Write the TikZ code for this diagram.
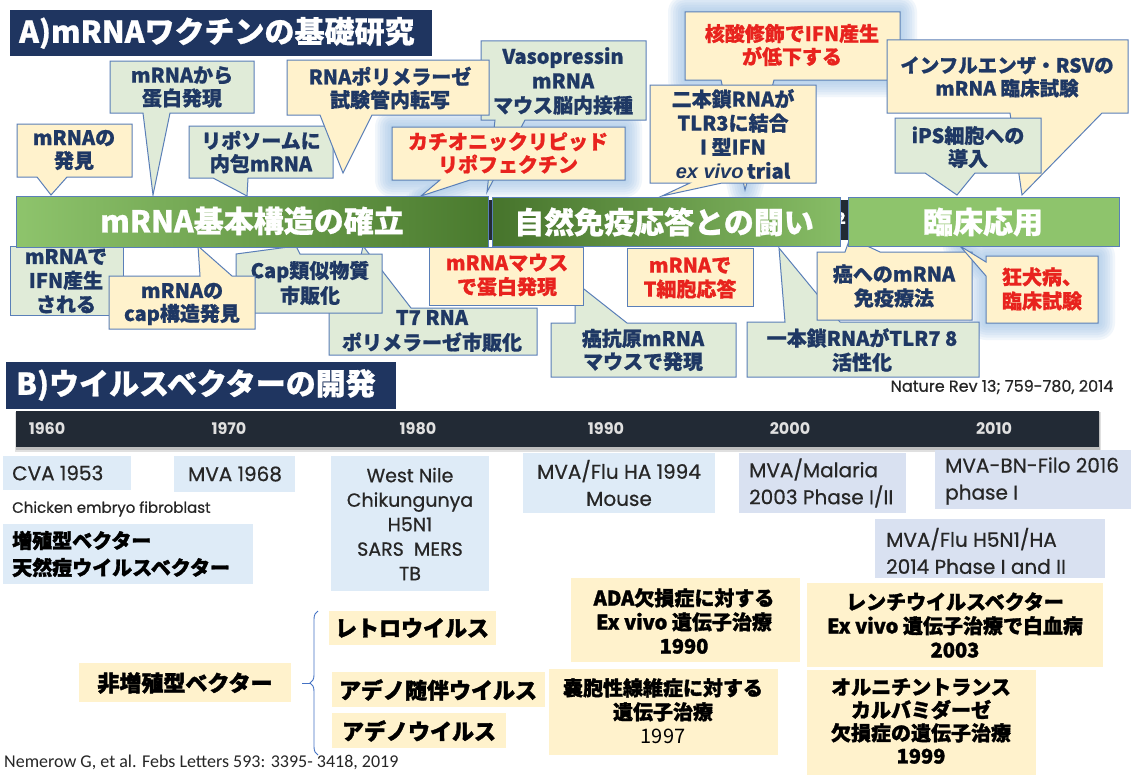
\documentclass[tikz,border=0pt]{standalone}
\usepackage{fontspec}
\setmainfont{Noto Sans CJK JP}[BoldFeatures={FakeBold=0.8}]
\newfontfamily\pop{Poppins}[FakeBold=0.6]
\newfontfamily\popy{Poppins}
\newfontfamily\carl{Carlito}
\newfontfamily\libs{Liberation Sans}
\newfontfamily\jheavy{Noto Sans CJK JP}[BoldFeatures={FakeBold=1.6}]
\usetikzlibrary{decorations.pathreplacing}
\definecolor{cNavy}{HTML}{1F3864}
\definecolor{cTitle}{HTML}{1F3560}
\definecolor{cBord}{HTML}{5A7FB8}
\definecolor{cYel}{HTML}{FFF2CC}
\definecolor{cGrn}{HTML}{E0EBD8}
\definecolor{cRed}{HTML}{E8231E}
\definecolor{cGlow}{HTML}{9DC3E6}
\definecolor{cDark}{HTML}{222A35}
\definecolor{cLB}{HTML}{DEEBF7}
\definecolor{cLV}{HTML}{D9E1F1}
\definecolor{gL}{HTML}{8EC46C}
\definecolor{gD}{HTML}{4A7A2E}
\definecolor{gM}{HTML}{5E9642}
\definecolor{cBrace}{HTML}{4472C4}
\newcommand\glowit[1]{\foreach \w in {34,29,24,19,14,9,4}{\path[glowline,line width=\w pt] #1;}}
\begin{document}
\begin{tikzpicture}[x=1pt,y=-1pt,
  callY/.style={fill=cYel,draw=cBord,line width=1pt},
  callG/.style={fill=cGrn,draw=cBord,line width=1pt},
  glowline/.style={draw=cGlow,draw opacity=0.14,line join=round},
  ctext/.style={text=cNavy,font=\bfseries\fontsize{20}{23}\selectfont,align=center,inner sep=0pt},
  ctextw/.style={ctext,font=\bfseries\fontsize{20}{24.5}\selectfont},
  rtext/.style={ctext,text=cRed},
  titletext/.style={text=white,font=\bfseries\fontsize{30}{34}\selectfont,inner sep=0pt,anchor=west},
  bartext/.style={text=white,font=\bfseries\fontsize{30}{34}\selectfont,inner sep=0pt},
  bar/.style={draw=cBord,line width=0.8pt},
  yeartxt/.style={text=white!88!black,font=\popy\bfseries\fontsize{16}{18}\selectfont,inner sep=0pt},
  ptxt/.style={text=black!85,font=\pop\fontsize{20}{27}\selectfont,inner sep=0pt,align=center},
  jtxt/.style={text=black,font=\jheavy\bfseries\fontsize{20}{24}\selectfont,inner sep=0pt,align=center},
  jbig/.style={text=black,font=\jheavy\bfseries\fontsize{22}{26}\selectfont,inner sep=0pt}
]
\useasboundingbox (0,0) rectangle (1131,776);
\fill[white] (0,0) rectangle (1131,776);

% ---------- Section A title
\fill[cTitle] (10,10) rectangle (432,56);
\node[titletext] (titleA) at (19,33) {A)mRNAワクチンの基礎研究};

% ---------- glowing bubbles
\glowit{(392,127) -- (625,127) -- (625,180) -- (470,180) -- (421,196) -- (440,180) -- (392,180) -- cycle}
\glowit{(685,12) -- (900,12) -- (900,80) -- (774,80) -- (745,190) -- (721,80) -- (685,80) -- cycle}
\glowit{(986,256) -- (1098,256) -- (1098,323) -- (986,323) -- (986,276) -- (960,246) -- (986,262) -- cycle}

% ---------- top bubbles
\path[callY] (17,124) -- (132,124) -- (132,177) -- (67,177) -- (51,195) -- (37,177) -- (17,177) -- cycle;
\node[ctext] (hakken) at (74,150) {mRNAの\\発見};
\path[callG] (110,61) -- (254,61) -- (254,113) -- (170,113) -- (153,195) -- (143,113) -- (110,113) -- cycle;
\node[ctext] (kara) at (182,87) {mRNAから\\蛋白発現};
\path[callG] (189,126) -- (333,126) -- (333,178) -- (248,178) -- (247,196) -- (213,178) -- (189,178) -- cycle;
\node[ctext] (ribo) at (261,152) {リポソームに\\内包mRNA};
\path[callG] (481,41) -- (646,41) -- (646,120) -- (525,120) -- (487,192) -- (495,120) -- (481,120) -- cycle;
\node[ctextw] (vaso) at (563,81) {Vasopressin\\mRNA\\マウス脳内接種};
\path[callY] (287,60) -- (489,60) -- (489,115) -- (372,115) -- (343,173) -- (320,115) -- (287,115) -- cycle;
\node[ctext] (rnapol) at (390,88) {RNAポリメラーゼ\\試験管内転写};
\path[callY] (392,127) -- (625,127) -- (625,180) -- (470,180) -- (421,196) -- (440,180) -- (392,180) -- cycle;
\node[rtext] (cation) at (508,153) {カチオニックリピッド\\リポフェクチン};
\path[callY] (685,12) -- (900,12) -- (900,80) -- (774,80) -- (745,190) -- (721,80) -- (685,80) -- cycle;
\node[rtext] (kakusan) at (792,45) {核酸修飾でIFN産生\\が低下する};
\path[callY] (650,85) -- (816,85) -- (816,183) -- (722,183) -- (662,196) -- (690,183) -- (650,183) -- cycle;
\node[ctext,font=\bfseries\fontsize{20}{24}\selectfont] (nihon) at (733,134) {二本鎖RNAが\\TLR3に結合\\I 型IFN\\{\libs\bfseries\itshape ex vivo}\,trial};
\path[callY] (887,40) -- (1128,40) -- (1128,113) -- (1102,113) -- (1022,195) -- (1010,113) -- (887,113) -- cycle;
\node[ctext,font=\bfseries\fontsize{19.5}{23}\selectfont] (influ) at (1007,77) {インフルエンザ・RSVの\\mRNA 臨床試験};
\path[callG] (895,118) -- (1041,118) -- (1041,173) -- (975,173) -- (957,195) -- (925,173) -- (895,173) -- cycle;
\node[ctext] (ips) at (968,147) {iPS細胞への\\導入};

% ---------- bottom bubbles
\path[callG] (10,246) rectangle (123,315);
\node[ctext,font=\bfseries\fontsize{20}{24}\selectfont] (ifn) at (66,281) {mRNAで\\IFN産生\\される};
\path[callG] (329,308) -- (350,308) -- (363,246) -- (411,308) -- (537,308) -- (537,355) -- (329,355) -- cycle;
\node[ctext,font=\bfseries\fontsize{20}{25}\selectfont] (t7) at (432,331) {T7 RNA\\ポリメラーゼ市販化};
\path[callG] (236,254) -- (296,246) -- (300,254) -- (382,254) -- (382,313) -- (236,313) -- cycle;
\node[ctext,font=\bfseries\fontsize{20}{25}\selectfont] (caprui) at (310,283) {Cap類似物質\\市販化};
\path[callY] (109,276) -- (200,276) -- (198,246) -- (232,276) -- (255,276) -- (255,329) -- (109,329) -- cycle;
\node[ctext] (capst) at (182,304) {mRNAの\\cap構造発見};
\path[callG] (551,323) -- (575,323) -- (575,282) -- (627,323) -- (736,323) -- (736,377) -- (551,377) -- cycle;
\node[ctext] (ganko) at (643,350) {癌抗原mRNA\\マウスで発現};
\path[callY] (429,247) rectangle (583,305);
\node[rtext,font=\bfseries\fontsize{20}{24}\selectfont] (mouse) at (507,275) {mRNAマウス\\で蛋白発現};
\path[callY] (627,248) rectangle (753,306);
\node[rtext,font=\bfseries\fontsize{20}{24}\selectfont] (tcell) at (690,278) {mRNAで\\T細胞応答};
\path[callG] (747,322) -- (785,322) -- (779,248) -- (840,322) -- (979,322) -- (979,377) -- (747,377) -- cycle;
\node[ctext,font=\bfseries\fontsize{20}{24}\selectfont] (ippon) at (862,350) {一本鎖RNAがTLR7 8\\活性化};
\path[callY] (817,252) -- (845,252) -- (850,238) -- (880,252) -- (972,252) -- (972,320) -- (817,320) -- cycle;
\node[ctext,font=\bfseries\fontsize{20}{24}\selectfont] (ganmen) at (894,286) {癌へのmRNA\\免疫療法};
\path[callY] (986,256) -- (1098,256) -- (1098,323) -- (986,323) -- (986,276) -- (960,246) -- (986,262) -- cycle;
\node[rtext,font=\bfseries\fontsize{20}{24}\selectfont] (kyoken) at (1042,289) {狂犬病、\\臨床試験};

% ---------- phase bars
\fill[cDark] (482,200) rectangle (851,240);
\node[text=white,font=\bfseries\fontsize{16}{18}\selectfont,inner sep=0pt] (hidden2) at (841,218) {2};
\path[bar,left color=gL,right color=gD] (16,196) rectangle (488,247);
\path[bar,left color=gD!95!black,right color=gL!90!gD] (492,197) rectangle (840,246);
\path[bar,left color=gL,middle color=gM,right color=gL] (848,197) rectangle (1119,246);
\node[bartext] (bar1) at (252,221) {mRNA基本構造の確立};
\node[bartext] (bar2) at (664,222) {自然免疫応答との闘い};
\node[bartext] (bar3) at (983,222) {臨床応用};

\node[text=black!85,font=\pop\fontsize{16}{18}\selectfont,inner sep=0pt] (nature) at (1002,387) {Nature Rev 13; 759-780, 2014};

% ---------- Section B
\fill[cTitle] (6,362) rectangle (396,409);
\node[titletext] (titleB) at (16,385) {B)ウイルスベクターの開発};
\fill[black,opacity=0.12] (15,412) rectangle (1101,452);
\fill[black,opacity=0.15] (16,412) rectangle (1100,450);
\fill[cDark] (16,411) rectangle (1099,447);
\node[yeartxt] (y60) at (47,429) {1960};
\node[yeartxt] (y70) at (229,429) {1970};
\node[yeartxt] (y80) at (418,429) {1980};
\node[yeartxt] (y90) at (606,429) {1990};
\node[yeartxt] (y00) at (790,429) {2000};
\node[yeartxt] (y10) at (994,429) {2010};

\fill[cLB] (3,456) rectangle (131,490);
\node[ptxt,anchor=west] (cva) at (12,473) {CVA 1953};
\fill[cLB] (174,456) rectangle (295,492);
\node[ptxt] (mva68) at (235,474) {MVA 1968};
\node[ptxt,font=\pop\fontsize{15}{18}\selectfont,anchor=west] (chick) at (12,509) {Chicken embryo fibroblast};
\fill[cLB] (3,524) rectangle (253,584);
\node[jtxt,align=left,anchor=west,font=\jheavy\bfseries\fontsize{20}{27}\selectfont] (zoshoku) at (12,554) {増殖型ベクター\\天然痘ウイルスベクター};
\fill[cLB] (331,456) rectangle (489,591);
\node[ptxt,font=\pop\fontsize{19}{24.5}\selectfont] (westnile) at (410,524) {West Nile\\Chikungunya\\H5N1\\SARS\ \ MERS\\TB};
\fill[cLB] (523,453) rectangle (715,513);
\node[ptxt] (flu94) at (619,483) {MVA/Flu HA 1994\\Mouse};
\fill[cLV] (739,453) rectangle (906,513);
\node[ptxt,align=left,anchor=west] (malaria) at (749,483) {MVA/Malaria\\2003 Phase I/II};
\fill[cLV] (935,450) rectangle (1131,509);
\node[ptxt,align=left,anchor=west] (filo) at (945,481) {MVA-BN-Filo 2016\\phase I};
\fill[cLV] (875,519) rectangle (1105,578);
\node[ptxt,align=left,anchor=west] (h5n1) at (886,551) {MVA/Flu H5N1/HA\\2014 Phase I and II};

\fill[cYel] (571,578) rectangle (800,662);
\node[jtxt] (ada) at (684,621) {ADA欠損症に対する\\Ex vivo 遺伝子治療\\1990};
\fill[cYel] (807,583) rectangle (1103,667);
\node[jtxt] (lenti) at (955,625) {レンチウイルスベクター\\Ex vivo 遺伝子治療で白血病\\2003};
\fill[cYel] (549,669) rectangle (778,755);
\node[jtxt] (cf) at (663,711) {嚢胞性線維症に対する\\遺伝子治療\\{\mdseries 1997}};
\fill[cYel] (807,670) rectangle (1036,775);
\node[jtxt,font=\jheavy\bfseries\fontsize{20}{23}\selectfont] (otc) at (921,721) {オルニチントランス\\カルバミダーゼ\\欠損症の遺伝子治療\\1999};

\fill[cYel] (79,663) rectangle (291,702);
\node[jbig] (hizo) at (185,683) {非増殖型ベクター};
\fill[cYel] (329,611) rectangle (496,645);
\node[jbig] (retro) at (412,628) {レトロウイルス};
\fill[cYel] (332,672) rectangle (545,707);
\node[jbig] (aav) at (438,690) {アデノ随伴ウイルス};
\fill[cYel] (332,713) rectangle (506,748);
\node[jbig] (adeno) at (419,731) {アデノウイルス};

\coordinate (brBot) at (318,755);
\coordinate (brTop) at (318,611);
\coordinate (brTip) at (310,683);
\coordinate (brEnd) at (302,683);
\draw[cBrace,line width=0.9pt,decorate,decoration={brace,amplitude=8pt}] (brBot) -- (brTop);
\draw[cBrace,line width=0.9pt] (brEnd) -- (brTip);

\node[text=black!85,font=\carl\fontsize{18}{20}\selectfont,inner sep=0pt,anchor=west] (nemerow) at (4,762) {Nemerow G, et al. Febs Letters 593: 3395- 3418, 2019};
\end{tikzpicture}
\end{document}
